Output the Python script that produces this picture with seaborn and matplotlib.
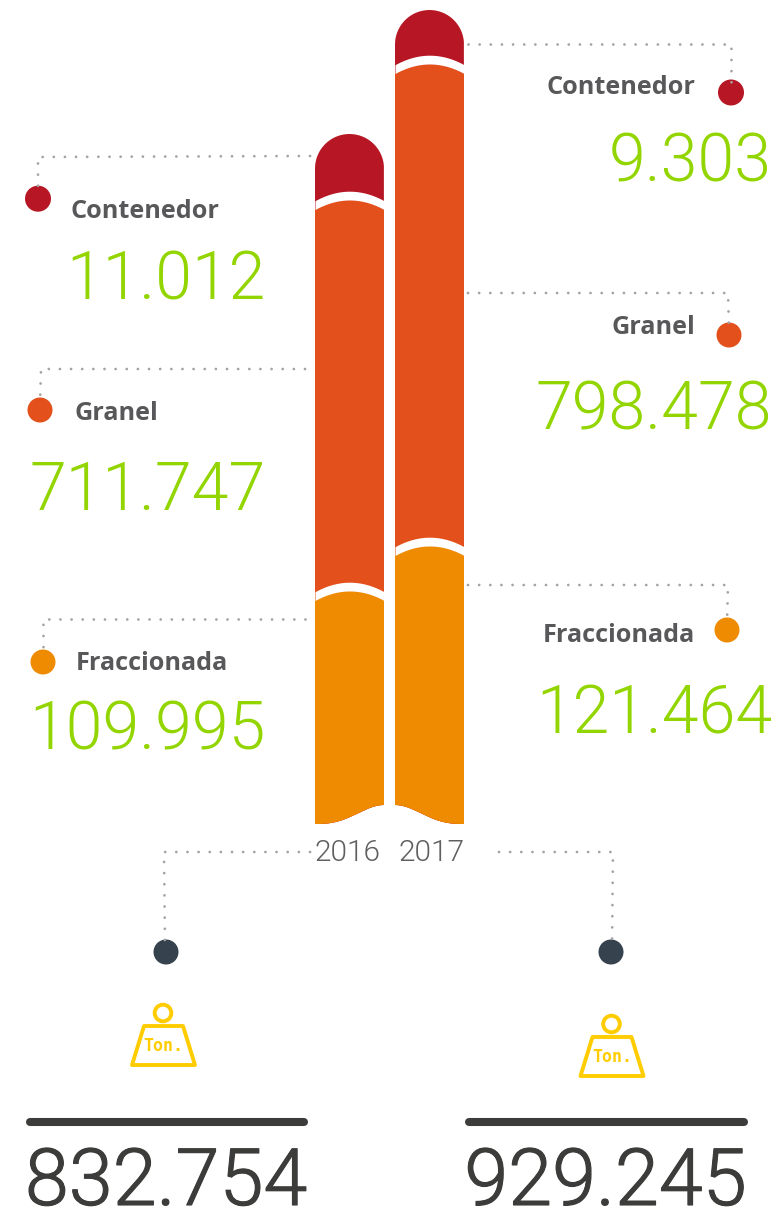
import numpy as np
import pandas as pd
import matplotlib
matplotlib.use("Agg")
import matplotlib.pyplot as plt
import matplotlib.patheffects as pe
from matplotlib.path import Path
from matplotlib.patches import Circle, Polygon
import seaborn as sns

years = ["2016", "2017"]
contenedor = [11012, 9303]
granel = [711747, 798478]
fraccionada = [109995, 121464]
totales = [832754, 929245]

# heights of the pictogram segments as drawn (the picture is not to scale)
alto_fraccionada = [233, 278]
alto_granel = [391, 482]
alto_contenedor = [66, 54]

ROJO, NARANJA, AMBAR = "#b71724", "#e3501c", "#ee8b00"
VERDE, GRIS, OSCURO, AZUL, AMARILLO = "#93d500", "#58585a", "#3c3c3b", "#36424e", "#ffcc00"
PUNTO = "#a3a3a3"

sns.set_theme(style="white")
plt.rcParams["font.family"] = ["Roboto", "DejaVu Sans"]

W, H = 780, 1210
fig = plt.figure(figsize=(W / 100, H / 100), dpi=100, facecolor="white")

# ---------- bars ----------
BASE = 824
ax = fig.add_axes([309.5 / W, (H - BASE) / H, 160 / W, BASE / H])
ax.patch.set_alpha(0)
frame = pd.DataFrame({"year": years,
                      "fr": alto_fraccionada,
                      "gr": alto_granel,
                      "co": alto_contenedor})
frame["c_fr"] = frame["fr"]
frame["c_gr"] = frame["fr"] + frame["gr"]
frame["c_co"] = frame["c_gr"] + frame["co"]

BAR_W = 69 / 80
layers = [("c_co", ROJO, 1), ("c_gr", NARANJA, 2), ("c_fr", AMBAR, 4)]
SAG, BAND, WAVE = 9.5, 8.8, 19


def bottom_wave(x0, x1, rises_right, n=60):
    t = np.linspace(0, 1, n)
    s = (1 - np.cos(np.pi * t ** 1.3)) / 2
    if not rises_right:
        s = s[::-1]
    return x0 + (x1 - x0) * t, WAVE * s


for col, colour, z in layers:
    sns.barplot(data=frame, x="year", y=col, color=colour, saturation=1, width=BAR_W,
                linewidth=0, edgecolor="none", zorder=z, ax=ax)
    for i, patch in enumerate(ax.containers[-1]):
        x0, wd, top = patch.get_x(), patch.get_width(), patch.get_height()
        x1 = x0 + wd
        xs = np.linspace(x0, x1, 80)
        u = (xs - x0) / wd
        if col == "c_co":
            px = wd * 80 / 2
            th = np.linspace(np.pi, 0, 80)
            tx = (x0 + x1) / 2 + wd / 2 * np.cos(th)
            ty = top - px + px * np.sin(th)
        else:
            tx = xs
            ty = top - 4 * SAG * (u - 0.5) ** 2
            ax.fill_between(xs, ty, ty + BAND, color="white", linewidth=0, zorder=z + 0.5)
        wx, wy = bottom_wave(x0, x1, rises_right=(i == 0))
        verts = np.r_[np.c_[wx, wy], np.c_[tx[::-1], ty[::-1]], [[wx[0], wy[0]]]]
        patch.set_clip_path(Path(verts), ax.transData)

ax.set_xlim(-0.5, 1.5)
ax.set_ylim(0, BASE)
ax.set_yticks([])
ax.set_xticks([-0.03, 1.03], years)
ax.tick_params(axis="x", length=0, pad=11, labelsize=21.5, labelcolor="#5f5f5f")
for lab in ax.get_xticklabels():
    lab.set_fontweight(300)
ax.set_xlabel("")
ax.set_ylabel("")
sns.despine(ax=ax, left=True, bottom=True)

# ---------- annotations, in picture units ----------
ov = fig.add_axes([0, 0, 1, 1], facecolor="none")
ov.set_xlim(0, W)
ov.set_ylim(H, 0)
ov.axis("off")


def miles(v):
    return f"{v:,}".replace(",", ".")


def leader(pts):
    xs, ys = zip(*pts)
    ov.plot(xs, ys, color=PUNTO, lw=2.0, ls=(0, (0.01, 4.0)),
            dash_capstyle="round", zorder=4)


def dot(x, y, r, c):
    ov.add_patch(Circle((x, y), r, fc=c, ec="none", zorder=3))


NUM = dict(family=["Roboto", "DejaVu Sans"], fontweight=300, fontsize=47.7, color=VERDE, va="baseline")
LAB = dict(family=["Open Sans", "DejaVu Sans"], fontweight="bold", fontsize=18.2, color=GRIS, va="center")

# 2016 side
i = 0
leader([(310, 156), (38, 157), (38, 192)])
dot(38, 198.7, 13, ROJO)
ov.text(70, 211, "Contenedor", ha="left", **LAB)
ov.text(265, 300, miles(contenedor[i]), ha="right", **NUM)
leader([(305, 369), (41, 369), (40, 404)])
dot(40, 410, 12.5, NARANJA)
ov.text(75, 414, "Granel", ha="left", **LAB)
ov.text(266, 510, miles(granel[i]), ha="right", **NUM)
leader([(305, 619), (43, 619), (43, 656)])
dot(43, 662, 12.5, AMBAR)
ov.text(76, 663, "Fraccionada", ha="left", **LAB)
ov.text(266, 750, miles(fraccionada[i]), ha="right", **NUM)

# 2017 side
i = 1
leader([(468, 44), (731, 44), (731, 86)])
dot(731, 92.5, 13, ROJO)
ov.text(695, 87, "Contenedor", ha="right", **LAB)
ov.text(772, 182, miles(contenedor[i]), ha="right", **NUM)
leader([(468, 293), (728, 293), (729, 329)])
dot(729, 335, 12.5, NARANJA)
ov.text(695, 328, "Granel", ha="right", **LAB)
ov.text(772.5, 430, miles(granel[i]), ha="right", **NUM)
leader([(468, 585), (728, 585), (727, 624)])
dot(727, 630, 12.5, AMBAR)
ov.text(695, 635, "Fraccionada", ha="right", **LAB)
ov.text(773, 733, miles(fraccionada[i]), ha="right", **NUM)

# totals
leader([(310, 852), (164, 852), (165, 946)])
dot(166, 952, 12.5, AZUL)
leader([(499, 852), (613, 852), (612, 946)])
dot(611, 952, 12.5, AZUL)


def pesa(dx, dy):
    ov.add_patch(Circle((163 + dx, 1013 + dy), 8.3, fc="none", ec=AMARILLO, lw=2.8, zorder=3))
    ov.add_patch(Polygon([(144 + dx, 1026 + dy), (183 + dx, 1026 + dy),
                          (195 + dx, 1065 + dy), (132 + dx, 1065 + dy)],
                         closed=True, fc="none", ec=AMARILLO, lw=2.8, joinstyle="round", zorder=3))
    ov.text(163.5 + dx, 1046 + dy, "Ton.", family=["DejaVu Sans Mono"], fontweight="bold",
            fontsize=12, color=AMARILLO, ha="center", va="center")


pesa(0, 0)
pesa(448.5, 11)

for x0, x1, xc, v in [(30, 304, 166, totales[0]), (469, 744, 605.5, totales[1])]:
    ov.plot([x0, x1], [1122, 1122], color=OSCURO, lw=5.8, solid_capstyle="round")
    t = ov.text(xc, 1205, miles(v), family=["Roboto", "DejaVu Sans"], fontweight=300,
                fontsize=57, color=OSCURO, ha="center", va="baseline")
    t.set_path_effects([pe.withStroke(linewidth=0.8, foreground=OSCURO)])

fig.savefig("out.png", dpi=100, facecolor="white")
